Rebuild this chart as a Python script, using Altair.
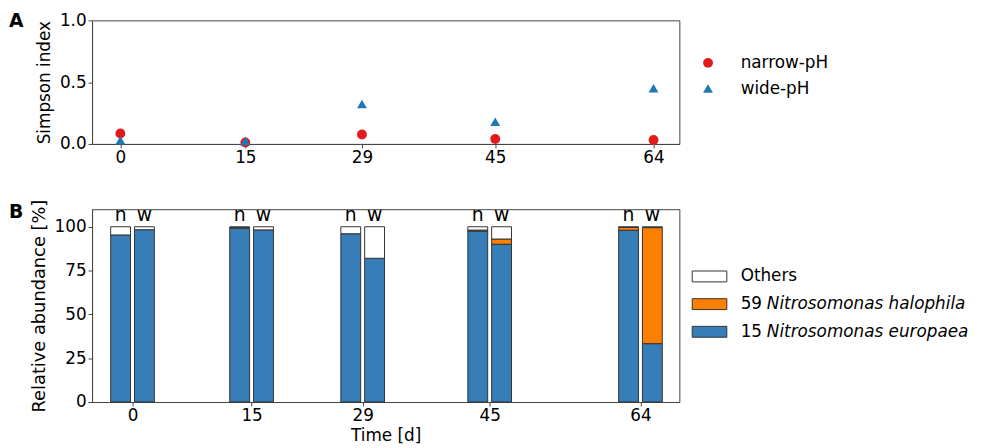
import altair as alt
import pandas as pd

# ---------------- data ----------------
days = [0, 15, 29, 45, 64]
series_labels = ["narrow-pH", "wide-pH"]
simpson_narrow = [0.085, 0.012, 0.077, 0.040, 0.032]
simpson_wide = [0.030, 0.025, 0.323, 0.180, 0.450]

groups = ["n", "w"]
taxa = ["15 Nitrosomonas europaea", "59 Nitrosomonas halophila", "Others"]
taxa_num = ["15", "59", ""]
taxa_species = ["Nitrosomonas europaea", "Nitrosomonas halophila", "Others"]
europaea_n = [95.3, 99.2, 96.0, 97.5, 98.0]
europaea_w = [98.3, 98.2, 82.0, 90.0, 33.3]
halophila_n = [0.0, 0.3, 0.0, 0.6, 1.6]
halophila_w = [0.0, 0.0, 0.0, 3.0, 66.2]
others_n = [4.7, 0.5, 4.0, 1.9, 0.4]
others_w = [1.7, 1.8, 18.0, 7.0, 0.5]

y_ticks_A = [0, 0.5, 1.0]
y_ticks_B = [0, 25, 50, 75, 100]

# ---------------- styles ----------------
FONT = "DejaVu Sans"
RED = "#e31a1c"
BLUE_PT = "#1f77b4"
BLUE_BAR = "#377eb8"
ORANGE = "#ff7f00"
EDGE = "#333333"
W = 594
HA = 125
HB = 195
BAR_W = 2.5
HALF_GAP = 0.25
LEG_FS = 17

# ---------------- panel A ----------------
dfA = pd.DataFrame({
    "day": days + days,
    "simpson": simpson_narrow + simpson_wide,
    "series": [series_labels[0]] * len(days) + [series_labels[1]] * len(days),
})
color_A = alt.Scale(domain=series_labels, range=[RED, BLUE_PT])
shape_A = alt.Scale(domain=series_labels, range=["circle", "triangle-up"])

xA = alt.X("day:Q", scale=alt.Scale(domain=[-3.4, 67.1], nice=False, zero=False),
           axis=alt.Axis(values=days, title=None, grid=False))
yA = alt.Y("simpson:Q", scale=alt.Scale(domain=[0, 1], nice=False),
           axis=alt.Axis(values=y_ticks_A, format=".1f", title="Simpson index",
                         grid=False, titlePadding=6))

pointsA = alt.Chart(dfA).mark_point(filled=True, size=100, opacity=1).encode(
    x=xA, y=yA,
    color=alt.Color("series:N", scale=color_A, legend=None),
    shape=alt.Shape("series:N", scale=shape_A, legend=None),
)

layersA = [pointsA]
for i, s in enumerate(series_labels):
    d = pd.DataFrame({"series": [s]})
    yy = 43 + 26 * i
    layersA.append(alt.Chart(d).mark_point(filled=True, size=100, opacity=1).encode(
        x=alt.value(623), y=alt.value(yy),
        color=alt.Color("series:N", scale=color_A, legend=None),
        shape=alt.Shape("series:N", scale=shape_A, legend=None)))
    layersA.append(alt.Chart(d).mark_text(align="left", baseline="middle", fontSize=LEG_FS,
                                          font=FONT, color="black").encode(
        x=alt.value(656), y=alt.value(yy), text="series:N"))
layersA.append(alt.Chart(pd.DataFrame({"t": ["A"]})).mark_text(
    align="left", baseline="middle", fontSize=19, fontWeight="bold", font=FONT, color="black"
).encode(x=alt.value(-84), y=alt.value(1), text="t:N"))

chartA = alt.layer(*layersA).properties(width=W, height=HA)

# ---------------- panel B ----------------
rows = []
vals = {
    ("n", taxa[0]): europaea_n, ("w", taxa[0]): europaea_w,
    ("n", taxa[1]): halophila_n, ("w", taxa[1]): halophila_w,
    ("n", taxa[2]): others_n, ("w", taxa[2]): others_w,
}
for g in groups:
    for k, t in enumerate(taxa):
        for j, d in enumerate(days):
            rows.append({"day": d, "grp": g, "taxon": t, "order": k, "value": vals[(g, t)][j]})
dfB = pd.DataFrame(rows)

color_B = alt.Scale(domain=taxa, range=[BLUE_BAR, ORANGE, "white"])
xscaleB = alt.Scale(domain=[-5.1, 68.9], nice=False, zero=False)
xaxisB = alt.Axis(values=days, title="Time [d]", grid=False, titlePadding=4)
yscaleB = alt.Scale(domain=[0, 110], nice=False)

bars = alt.Chart(dfB).transform_filter("datum.value > 0").transform_window(
    cum="sum(value)", groupby=["day", "grp"], sort=[alt.SortField("order")], frame=[None, 0]
).transform_calculate(
    y0="datum.cum - datum.value",
    xpos=f"datum.day + (datum.grp === 'n' ? -{BAR_W + HALF_GAP} : {HALF_GAP})",
    xend=f"datum.xpos + {BAR_W}",
).mark_rect(stroke=EDGE, strokeWidth=1).encode(
    x=alt.X("xpos:Q", scale=xscaleB, axis=xaxisB),
    x2="xend:Q",
    y=alt.Y("y0:Q", scale=yscaleB,
            axis=alt.Axis(values=y_ticks_B, title="Relative abundance [%]", grid=False,
                          titlePadding=6, titleFontSize=18)),
    y2="cum:Q",
    color=alt.Color("taxon:N", scale=color_B, legend=None),
)

dfLab = pd.DataFrame({"day": days * 2, "grp": ["n"] * len(days) + ["w"] * len(days)})
labels = alt.Chart(dfLab).transform_calculate(
    xpos=f"datum.day + (datum.grp === 'n' ? -{BAR_W / 2 + HALF_GAP} : {BAR_W / 2 + HALF_GAP})"
).mark_text(baseline="bottom", dy=-2, fontSize=19, font=FONT, color="black").encode(
    x=alt.X("xpos:Q", scale=xscaleB, axis=xaxisB),
    y=alt.datum(100),
    text="grp:N",
)

layersB = [bars, labels]
legend_order = [2, 1, 0]
for r, k in enumerate(legend_order):
    yc = 68 + 28 * r
    d = pd.DataFrame({"taxon": [taxa[k]], "num": [taxa_num[k]], "sp": [taxa_species[k]]})
    layersB.append(alt.Chart(d).mark_rect(stroke=EDGE, strokeWidth=1).encode(
        x=alt.value(607), x2=alt.value(642), y=alt.value(yc - 5.5), y2=alt.value(yc + 5.5),
        color=alt.Color("taxon:N", scale=color_B, legend=None)))
    if taxa_num[k]:
        layersB.append(alt.Chart(d).mark_text(align="left", baseline="middle", fontSize=LEG_FS,
                                              font=FONT, color="black").encode(
            x=alt.value(656), y=alt.value(yc), text="num:N"))
        layersB.append(alt.Chart(d).mark_text(align="left", baseline="middle", fontSize=LEG_FS,
                                              font=FONT, fontStyle="italic", color="black").encode(
            x=alt.value(682.5), y=alt.value(yc), text="sp:N"))
    else:
        layersB.append(alt.Chart(d).mark_text(align="left", baseline="middle", fontSize=LEG_FS,
                                              font=FONT, color="black").encode(
            x=alt.value(656), y=alt.value(yc), text="sp:N"))
layersB.append(alt.Chart(pd.DataFrame({"t": ["B"]})).mark_text(
    align="left", baseline="middle", fontSize=19, fontWeight="bold", font=FONT, color="black"
).encode(x=alt.value(-84), y=alt.value(3), text="t:N"))

chartB = alt.layer(*layersB).properties(width=W, height=HB)

chart = alt.vconcat(chartA, chartB, spacing=32).resolve_scale(
    color="independent", shape="independent"
).properties(
    padding={"left": 0, "top": 0, "right": 5, "bottom": 0}
).configure(font=FONT).configure_view(
    stroke="#444444", strokeWidth=1
).configure_axis(
    labelFont=FONT, titleFont=FONT, labelFontSize=17, titleFontSize=17,
    titleFontWeight="normal", labelColor="black", titleColor="black",
    domainColor="#444444", tickColor="#444444", tickSize=4, labelPadding=2,
)

chart.save("out.html", embed_options={"renderer": "svg", "actions": False})
